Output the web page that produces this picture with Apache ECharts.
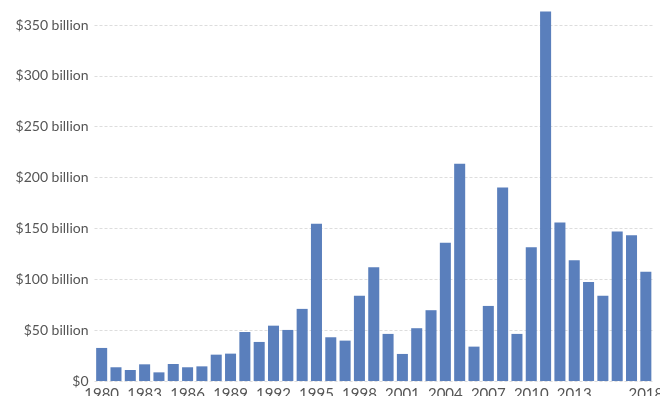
<!DOCTYPE html>
<html>
<head>
<meta charset="utf-8">
<script src="https://cdn.jsdelivr.net/npm/echarts@6/dist/echarts.min.js"></script>
<style>
html,body{margin:0;padding:0;background:#fff;}
#chart{width:660px;height:396px;}
</style>
</head>
<body>
<div id="chart"></div>
<script>
const years = ['1980','1981','1982','1983','1984','1985','1986','1987','1988','1989',
  '1990','1991','1992','1993','1994','1995','1996','1997','1998','1999',
  '2000','2001','2002','2003','2004','2005','2006','2007','2008','2009',
  '2010','2011','2012','2013','2014','2015','2016','2017','2018'];
const values = [32.5,13.5,10.8,16.4,8.5,16.7,13.5,14.4,25.9,26.9,
  48.2,38.4,54.4,50.2,70.9,154.5,43,39.7,83.7,111.9,
  46.3,26.6,51.9,69.6,135.8,213.6,33.8,73.8,190.3,46.3,
  131.6,363.2,155.8,118.8,97.4,83.7,147,143.4,107.3];
const shownYears = ['1980','1983','1986','1989','1992','1995','1998','2001','2004','2007','2010','2013','2018'];
const yTicks = [0,50,100,150,200,250,300,350];

const chart = echarts.init(document.getElementById('chart'), null, {renderer:'canvas'});
chart.setOption({
  animation:false,
  grid:{left:94.5,right:7,top:25,bottom:15,containLabel:false,outerBoundsMode:'none'},
  xAxis:{
    type:'category',
    data:years,
    axisLine:{show:false},
    axisTick:{show:false},
    axisLabel:{
      interval:0,
      color:'#555',
      fontFamily:'Lato',
      fontSize:15,
      margin:6,
      formatter:function(v){return shownYears.indexOf(v)>=0?v:'';}
    }
  },
  yAxis:{
    type:'value',
    min:yTicks[0],
    max:yTicks[yTicks.length-1],
    interval:50,
    axisLine:{show:false},
    axisTick:{show:false},
    axisLabel:{
      color:'#555',
      fontFamily:'Lato',
      fontSize:14,
      margin:6,
      formatter:function(v){return v===0?'$0':'$'+v+' billion';}
    },
    splitLine:{show:true,lineStyle:{color:'#ddd',type:[3,2],width:1}}
  },
  series:[{
    type:'bar',
    data:values,
    clip:false,
    barCategoryGap:'23%',
    itemStyle:{color:'#5a7fbc'}
  }]
});
</script>
</body>
</html>
